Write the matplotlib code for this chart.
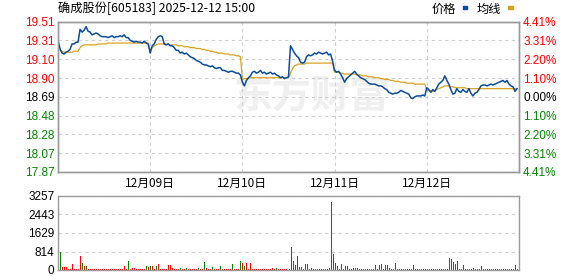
import numpy as np
import matplotlib
matplotlib.use('Agg')
import matplotlib.pyplot as plt

plt.rcParams['font.family'] = ['Liberation Sans', 'Noto Sans CJK SC', 'DejaVu Sans']
CJK = ['Noto Sans CJK SC', 'DejaVu Sans']

title = '确成股份[605183] 2025-12-12 15:00'
day_labels = ['12月09日', '12月10日', '12月11日', '12月12日']
prev_close = 18.69
pct_ticks = [-4.41, -3.31, -2.20, -1.10, 0.00, 1.10, 2.20, 3.31, 4.41]
price_labels = ['17.87', '18.07', '18.28', '18.48', '18.69', '18.90', '19.10', '19.31', '19.51']
vol_ticks = [0, 814, 1629, 2443, 3257]

# 46 samples per session
price_d1 = [19.31, 19.22, 19.17, 19.16, 19.18, 19.19, 19.21, 19.27, 19.27, 19.29,
            19.29, 19.43, 19.40, 19.42, 19.46, 19.41, 19.40, 19.37, 19.38, 19.39,
            19.38, 19.36, 19.35, 19.35, 19.35, 19.34, 19.35, 19.36, 19.34, 19.35,
            19.35, 19.36, 19.35, 19.37, 19.34, 19.34, 19.31, 19.30, 19.29, 19.30,
            19.29, 19.29, 19.28, 19.30, 19.28, 19.27]
price_d2 = [19.17, 19.25, 19.27, 19.32, 19.35, 19.36, 19.35, 19.27, 19.26, 19.27,
            19.25, 19.25, 19.23, 19.20, 19.20, 19.17, 19.18, 19.16, 19.17, 19.15,
            19.13, 19.12, 19.11, 19.09, 19.08, 19.07, 19.05, 19.04, 19.04, 19.03,
            19.02, 19.03, 19.01, 19.00, 19.01, 19.01, 18.98, 18.98, 18.97, 18.96,
            18.97, 18.97, 18.96, 18.95, 18.95, 18.93]
price_d3 = [18.85, 18.81, 18.87, 18.90, 18.92, 18.96, 18.97, 18.95, 18.96, 18.98,
            18.95, 18.96, 18.94, 18.95, 18.96, 18.94, 18.95, 18.93, 18.92, 18.90,
            18.91, 18.89, 18.90, 18.91, 19.25, 19.21, 19.17, 19.14, 19.12, 19.07,
            19.06, 19.07, 19.13, 19.15, 19.14, 19.15, 19.17, 19.16, 19.18, 19.17,
            19.16, 19.17, 19.18, 19.15, 19.16, 19.08]
price_d4 = [18.98, 18.96, 18.97, 18.94, 18.90, 18.85, 18.89, 18.91, 18.93, 18.95,
            18.97, 18.94, 18.92, 18.90, 18.89, 18.88, 18.86, 18.84, 18.83, 18.83,
            18.83, 18.82, 18.81, 18.81, 18.80, 18.78, 18.77, 18.74, 18.73, 18.72,
            18.73, 18.73, 18.74, 18.76, 18.75, 18.74, 18.73, 18.72, 18.68, 18.67,
            18.69, 18.70, 18.70, 18.70, 18.71, 18.70]
price_d5 = [18.79, 18.77, 18.74, 18.77, 18.75, 18.79, 18.83, 18.85, 18.87, 18.92,
            18.87, 18.83, 18.77, 18.72, 18.73, 18.78, 18.75, 18.74, 18.77, 18.75,
            18.74, 18.78, 18.73, 18.70, 18.73, 18.74, 18.77, 18.81, 18.82, 18.82,
            18.81, 18.82, 18.83, 18.82, 18.83, 18.84, 18.85, 18.86, 18.87, 18.85,
            18.87, 18.83, 18.81, 18.80, 18.75, 18.78]

avg_d1 = [19.23, 19.20, 19.19, 19.18, 19.18, 19.18, 19.18, 19.18, 19.19, 19.19,
          19.19, 19.23, 19.25, 19.26, 19.26, 19.26, 19.26, 19.26, 19.26, 19.26,
          19.27, 19.27, 19.27, 19.27, 19.27, 19.28, 19.28, 19.28, 19.28, 19.28,
          19.28, 19.28, 19.28, 19.28, 19.28, 19.28, 19.28, 19.28, 19.28, 19.28,
          19.28, 19.28, 19.28, 19.28, 19.28, 19.28]
avg_d2 = [19.20, 19.23, 19.25, 19.26, 19.27, 19.27, 19.27, 19.27, 19.27, 19.27,
          19.26, 19.26, 19.26, 19.26, 19.25, 19.25, 19.25, 19.24, 19.24, 19.24,
          19.23, 19.23, 19.23, 19.22, 19.22, 19.22, 19.21, 19.21, 19.20, 19.20,
          19.19, 19.19, 19.18, 19.18, 19.17, 19.17, 19.17, 19.16, 19.16, 19.16,
          19.15, 19.15, 19.15, 19.14, 19.14, 19.13]
avg_d3 = [18.88, 18.89, 18.89, 18.89, 18.90, 18.90, 18.90, 18.90, 18.90, 18.90,
          18.90, 18.90, 18.90, 18.90, 18.90, 18.90, 18.90, 18.90, 18.90, 18.90,
          18.90, 18.90, 18.90, 18.90, 18.95, 19.00, 19.03, 19.04, 19.05, 19.05,
          19.05, 19.05, 19.06, 19.06, 19.06, 19.06, 19.06, 19.06, 19.06, 19.06,
          19.06, 19.06, 19.06, 19.06, 19.06, 19.06]
avg_d4 = [18.96, 18.96, 18.96, 18.95, 18.95, 18.94, 18.94, 18.94, 18.94, 18.94,
          18.94, 18.93, 18.93, 18.93, 18.92, 18.92, 18.92, 18.91, 18.91, 18.91,
          18.90, 18.90, 18.90, 18.89, 18.89, 18.88, 18.88, 18.88, 18.87, 18.87,
          18.86, 18.86, 18.86, 18.85, 18.85, 18.85, 18.84, 18.84, 18.84, 18.84,
          18.83, 18.83, 18.83, 18.83, 18.83, 18.83]
avg_d5 = [18.76, 18.76, 18.75, 18.75, 18.76, 18.77, 18.78, 18.79, 18.80, 18.81,
          18.81, 18.81, 18.80, 18.80, 18.79, 18.79, 18.79, 18.79, 18.79, 18.79,
          18.78, 18.78, 18.78, 18.78, 18.78, 18.78, 18.78, 18.78, 18.78, 18.78,
          18.78, 18.78, 18.78, 18.78, 18.78, 18.78, 18.78, 18.78, 18.78, 18.78,
          18.78, 18.78, 18.78, 18.78, 18.78, 18.78]

# volume, negative = down tick (green)
vol_d1 = [-805, -780, 150, 120, 150, 40, 40, 260, 40, 40, 40, 620, -320, 170, -170,
          40, 40, 40, 40, 40, 40, 40, 40, 40, 40, 40, 40, 40, 40, 40, 40, 40, 40,
          170, 40, -410, 40, 100, 100, 40, 40, 40, 40, 40, -170, 120]
vol_d2 = [-170, 170, 40, -170, 260, 40, 40, 40, 40, 220, 220, 100, 40, 40, 40,
          -100, 40, 40, -100, 40, 40, 40, 40, 40, -90, 40, 40, -370, 100, 40, 40,
          -130, 40, 40, 40, -170, 40, 40, 40, 40, 40, -260, 40, 40, 40, -410]
vol_d3 = [320, -170, 320, 40, 320, 40, 40, 40, 40, 40, 40, 40, 40, 40, 40, 90, 40,
          -90, 40, 40, 40, 40, 40, 40, 1030, -410, 220, 620, -150, -150, 40, 260,
          260, 40, -90, 40, 40, 40, 40, 40, 40, 40, 40, -100, -2990, 700]
vol_d4 = [-300, -170, 40, -260, 40, -170, 170, 40, 40, 100, 100, 100, 40, 40, 40,
          40, 40, 40, 40, 40, -200, 40, 220, 260, 40, -200, -200, 100, 40, 40,
          -290, 40, 40, 40, 40, 40, 40, -60, 40, -200, 40, 40, 40, 40, 60, 40]
vol_d5 = [60, 40, 40, 40, 40, 60, 40, 40, 60, 40, 40, -510, -470, -370, -260, 400,
          40, 40, -200, 40, 40, 40, 40, -100, 40, 40, 40, 170, 40, 40, 40, 40, 40,
          40, 40, 40, 40, 40, 40, 40, -60, 40, 40, -60, -220, 40]

BLUE = '#0b4c9e'
GOLD = '#dca21e'
RED = '#ff0000'
GREEN = '#008800'
FRAME = '#9a9a9a'
GRID = '#cfcfcf'

price = np.array(price_d1 + price_d2 + price_d3 + price_d4 + price_d5)
avg = np.array(avg_d1 + avg_d2 + avg_d3 + avg_d4 + avg_d5)
vol = np.array(vol_d1 + vol_d2 + vol_d3 + vol_d4 + vol_d5)
per_day = len(price_d1)
n = len(price)
x = np.arange(n)

W, H = 578, 276
fig = plt.figure(figsize=(W / 100, H / 100), dpi=100)
ax = fig.add_axes([58 / W, 1 - 172 / H, 461 / W, 150.3 / H])
axv = fig.add_axes([58 / W, 1 - 270 / H, 461 / W, 74 / H])

# watermark
ax.text(0.55, 0.50, '东方财富', transform=ax.transAxes, ha='center', va='center',
        fontsize=28, fontweight='bold', color='#efefef', family=CJK, zorder=0)

ax.plot(x, price, color=BLUE, lw=1.1, zorder=3)
ax.plot(x, avg, color=GOLD, lw=0.9, zorder=2)

lo = prev_close * (1 - pct_ticks[-1] / 100)
hi = prev_close * (1 + pct_ticks[-1] / 100)
yt = [prev_close * (1 + p / 100) for p in pct_ticks]
ax.set_xlim(0, n)
ax.set_ylim(lo, hi)
ax.set_yticks(yt)
ax.set_yticklabels(price_labels)
ax.set_xticks([per_day * k for k in range(1, 5)])
ax.set_xticklabels(day_labels, family=CJK, fontsize=8.5)
ax.tick_params(axis='both', length=0, labelsize=8.5)
ax.tick_params(axis='y', pad=2.5)
ax.tick_params(axis='x', pad=3.5)
ax.grid(True, color=GRID, ls=(0, (3, 3)), lw=0.8)
ax.set_axisbelow(True)

def pctColor(p):
    if p > 0:
        return RED
    if p < 0:
        return GREEN
    return 'black'

for lab, p in zip(ax.get_yticklabels(), pct_ticks):
    lab.set_color(pctColor(p))

axr = ax.twinx()
axr.set_ylim(lo, hi)
axr.set_yticks(yt)
axr.set_yticklabels(['%.2f%%' % abs(p) for p in pct_ticks])
axr.tick_params(axis='y', length=0, labelsize=8.5, pad=3)
for lab, p in zip(axr.get_yticklabels(), pct_ticks):
    lab.set_color(pctColor(p))

for a in (ax, axr, axv):
    for s in a.spines.values():
        s.set_color(FRAME)
        s.set_linewidth(1.0)

# volume, one crisp 1px bar per slot
colors = [RED if v >= 0 else GREEN for v in vol]
axv.bar(x + 0.25, np.abs(vol), width=0.5, color=colors, linewidth=0,
        antialiased=False, zorder=2)
axv.set_xlim(0, n)
axv.set_ylim(vol_ticks[0], vol_ticks[-1])
axv.set_yticks(vol_ticks)
axv.set_yticklabels([str(v) for v in vol_ticks])
axv.set_xticks([])
axv.tick_params(axis='y', length=0, labelsize=8.5, pad=2.5)
axv.yaxis.grid(True, color=GRID, ls=(0, (3, 3)), lw=0.8)
axv.set_axisbelow(True)

# title and legend
fig.text(58 / W, 1 - 8.5 / H, title, ha='left', va='center', fontsize=8.8, family=CJK)
fig.text(432 / W, 1 - 9 / H, '价格', ha='left', va='center', fontsize=8.8, family=CJK)
fig.patches.append(plt.Rectangle((462.5 / W, 1 - 9 / H), 4 / W, 3 / H,
                                 transform=fig.transFigure, color=BLUE))
fig.text(477 / W, 1 - 9 / H, '均线', ha='left', va='center', fontsize=8.8, family=CJK)
fig.patches.append(plt.Rectangle((508 / W, 1 - 9 / H), 5 / W, 3 / H,
                                 transform=fig.transFigure, color=GOLD))

fig.savefig('out.png', dpi=100)
